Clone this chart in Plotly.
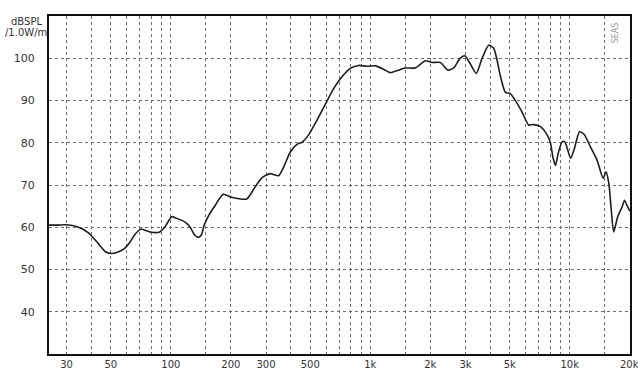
import math
import plotly.graph_objects as go

freq_hz = [24.5, 27, 30, 34, 38.5, 43, 47, 50, 54, 58, 62.5, 66, 71, 74, 80, 88, 93.5,
           101, 107, 118, 125, 131, 137, 142, 147, 154, 167, 183, 202, 240, 265, 286,
           315, 347, 368, 397, 429, 454, 490, 540, 595, 655, 721, 794, 875, 963, 1060,
           1166, 1256, 1410, 1495, 1680, 1890, 2040, 2245, 2445, 2620, 2810, 2970, 3120,
           3400, 3630, 3920, 4150, 4300, 4480, 4760, 5020, 5320, 5760, 6220, 6590, 7130,
           7710, 8000, 8240, 8480, 8750, 9150, 9450, 10100, 10500, 11200, 11800, 12700,
           13700, 14700, 15200, 15700, 16100, 16600, 17400, 18300, 18800, 19300, 20000]
spl_db = [60.5, 60.5, 60.6, 60.1, 58.7, 56.3, 54.2, 53.8, 54.1, 54.8, 56.5, 58.3, 59.6,
          59.3, 58.8, 58.9, 60.1, 62.5, 62.1, 61.2, 60.0, 58.3, 57.6, 58.1, 60.5, 62.6,
          65.2, 67.8, 67.1, 66.7, 69.6, 71.7, 72.7, 72.2, 74.3, 77.8, 79.6, 80.1, 81.8,
          85.3, 89.1, 92.8, 95.6, 97.6, 98.3, 98.1, 98.2, 97.4, 96.6, 97.3, 97.7, 97.7,
          99.4, 99.0, 99.0, 97.2, 97.7, 99.9, 100.6, 99.3, 96.4, 99.9, 103.1, 102.4,
          100.0, 96.0, 91.9, 91.7, 90.1, 87.3, 84.2, 84.3, 83.8, 81.8, 80.0, 76.5, 74.6,
          77.5, 80.2, 80.2, 76.3, 78.3, 82.6, 82.0, 79.0, 75.9, 71.6, 73.1, 70.4, 64.8,
          58.9, 62.5, 64.8, 66.4, 65.3, 63.8]

x_grid = [30, 40, 50, 60, 70, 80, 90, 100, 150, 200, 300, 400, 500, 600, 700, 800, 900,
          1000, 1500, 2000, 3000, 4000, 5000, 6000, 7000, 8000, 9000, 10000, 15000, 20000]
x_labels = {30: "30", 50: "50", 100: "100", 200: "200", 300: "300", 500: "500",
            1000: "1k", 2000: "2k", 3000: "3k", 5000: "5k", 10000: "10k", 20000: "20k"}
y_ticks = [40, 50, 60, 70, 80, 90, 100]

# last label sits on the right border; plotly hides it as a tick, so draw it as an annotation
last_tick = x_grid[-1]
tick_text = [x_labels.get(v, "") if v != last_tick else "" for v in x_grid]
x_range = [math.log10(24.5), math.log10(last_tick) + 0.001]

fig = go.Figure()
fig.add_trace(go.Scatter(
    x=freq_hz, y=spl_db, mode="lines",
    line=dict(color="#1e1e1e", width=1.6, shape="spline", smoothing=0.6),
    hoverinfo="skip", showlegend=False,
))

font = dict(family="DejaVu Sans", size=10, color="#333333")

fig.update_layout(
    width=638, height=372,
    margin=dict(l=49, r=8, t=16, b=18),
    paper_bgcolor="white", plot_bgcolor="white",
    font=font,
    xaxis=dict(
        type="log", range=x_range,
        tickvals=x_grid, ticktext=tick_text,
        showgrid=True, gridcolor="#6e6e6e", griddash="dot", gridwidth=1,
        showline=True, linecolor="#111111", linewidth=2, mirror=True,
        ticks="", ticklabelstandoff=0, automargin=False, zeroline=False, tickfont=font,
    ),
    yaxis=dict(
        range=[30, 110], tickvals=y_ticks,
        showgrid=True, gridcolor="#6e6e6e", griddash="dot", gridwidth=1,
        showline=True, linecolor="#111111", linewidth=2, mirror=True,
        ticks="", ticklabelstandoff=10, automargin=False, zeroline=False,
        tickfont=dict(family="DejaVu Sans", size=11, color="#333333"),
    ),
    annotations=[
        dict(text=x_labels[last_tick], xref="x", yref="paper", x=math.log10(last_tick),
             y=0, yshift=-3, showarrow=False, font=font,
             xanchor="center", yanchor="top"),
        dict(text="dBSPL", xref="paper", yref="paper", x=-0.038, y=0.985,
             showarrow=False, font=dict(family="DejaVu Sans", size=10, color="#333333"),
             xanchor="center", yanchor="middle"),
        dict(text="/1.0W/m", xref="paper", yref="paper", x=-0.040, y=0.950,
             showarrow=False, font=dict(family="DejaVu Sans", size=10, color="#333333"),
             xanchor="center", yanchor="middle"),
        dict(text="SEAS", xref="paper", yref="paper", x=0.975, y=0.95,
             showarrow=False, textangle=-90,
             font=dict(family="DejaVu Sans", size=8, color="#999999"),
             xanchor="center", yanchor="middle"),
    ],
)

fig.write_html("out.html")
